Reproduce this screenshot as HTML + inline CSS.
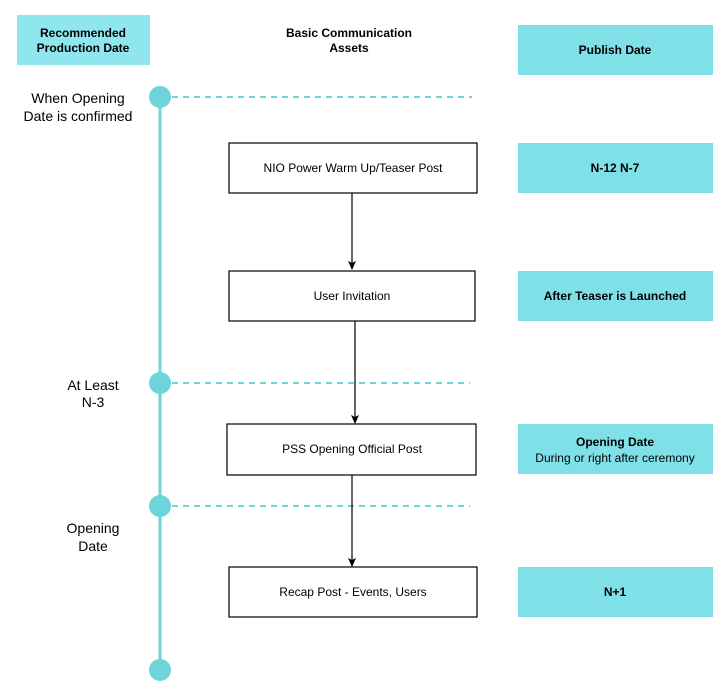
<!DOCTYPE html>
<html><head><style>body{margin:0;background:#fff}svg{display:block}text{font-family:"Liberation Sans",Arial,sans-serif}</style></head>
<body>
<svg width="725" height="692" viewBox="0 0 725 692" xmlns="http://www.w3.org/2000/svg">
<defs><marker id="a" markerWidth="10" markerHeight="10" refX="8" refY="5" orient="auto" markerUnits="userSpaceOnUse"><path d="M0,1 L9,5 L0,9 L2,5 Z" fill="#000"/></marker></defs>
<rect x="17" y="15" width="133" height="50" fill="#8fe6ee"/>
<text x="83" y="37" font-size="12" font-weight="bold" text-anchor="middle">Recommended</text>
<text x="83" y="52" font-size="12" font-weight="bold" text-anchor="middle">Production Date</text>
<text x="349" y="37" font-size="12" font-weight="bold" text-anchor="middle">Basic Communication</text>
<text x="349" y="52" font-size="12" font-weight="bold" text-anchor="middle">Assets</text>
<g fill="#80e0e8">
<rect x="518" y="25" width="195" height="50"/>
<rect x="518" y="143" width="195" height="50"/>
<rect x="518" y="271" width="195" height="50"/>
<rect x="518" y="424" width="195" height="50"/>
<rect x="518" y="567" width="195" height="50"/>
</g>
<g font-size="12" text-anchor="middle" font-weight="bold">
<text x="615" y="54">Publish Date</text>
<text x="615" y="172">N-12 N-7</text>
<text x="615" y="300">After Teaser is Launched</text>
<text x="615" y="446">Opening Date</text>
<text x="615" y="596">N+1</text>
</g>
<text x="615" y="462" font-size="12" text-anchor="middle">During or right after ceremony</text>
<line x1="160" y1="97" x2="160" y2="670" stroke="#6dd4da" stroke-width="3"/>
<g stroke="#6dd4da" stroke-width="2" stroke-dasharray="6,5">
<line x1="172" y1="97" x2="472" y2="97"/>
<line x1="172" y1="383" x2="470" y2="383"/>
<line x1="172" y1="506" x2="470" y2="506"/>
</g>
<g fill="#6dd4da">
<circle cx="160" cy="97" r="11"/><circle cx="160" cy="383" r="11"/><circle cx="160" cy="506" r="11"/><circle cx="160" cy="670" r="11"/>
</g>
<g font-size="14" text-anchor="middle">
<text x="78" y="103">When Opening</text><text x="78" y="121">Date is confirmed</text>
<text x="93" y="390">At Least</text><text x="93" y="407">N-3</text>
<text x="93" y="533">Opening</text><text x="93" y="551">Date</text>
</g>
<g stroke="#000" stroke-width="1.2">
<line x1="352" y1="193" x2="352" y2="269" marker-end="url(#a)"/>
<line x1="355" y1="321" x2="355" y2="423" marker-end="url(#a)"/>
<line x1="352" y1="475" x2="352" y2="566" marker-end="url(#a)"/>
</g>
<g fill="#fff" stroke="#000" stroke-width="1.2">
<rect x="229" y="143" width="248" height="50"/>
<rect x="229" y="271" width="246" height="50"/>
<rect x="227" y="424" width="249" height="51"/>
<rect x="229" y="567" width="248" height="50"/>
</g>
<g font-size="12" text-anchor="middle">
<text x="353" y="172">NIO Power Warm Up/Teaser Post</text>
<text x="352" y="300">User Invitation</text>
<text x="352" y="453">PSS Opening Official Post</text>
<text x="353" y="596">Recap Post - Events, Users</text>
</g>
</svg>
</body></html>
